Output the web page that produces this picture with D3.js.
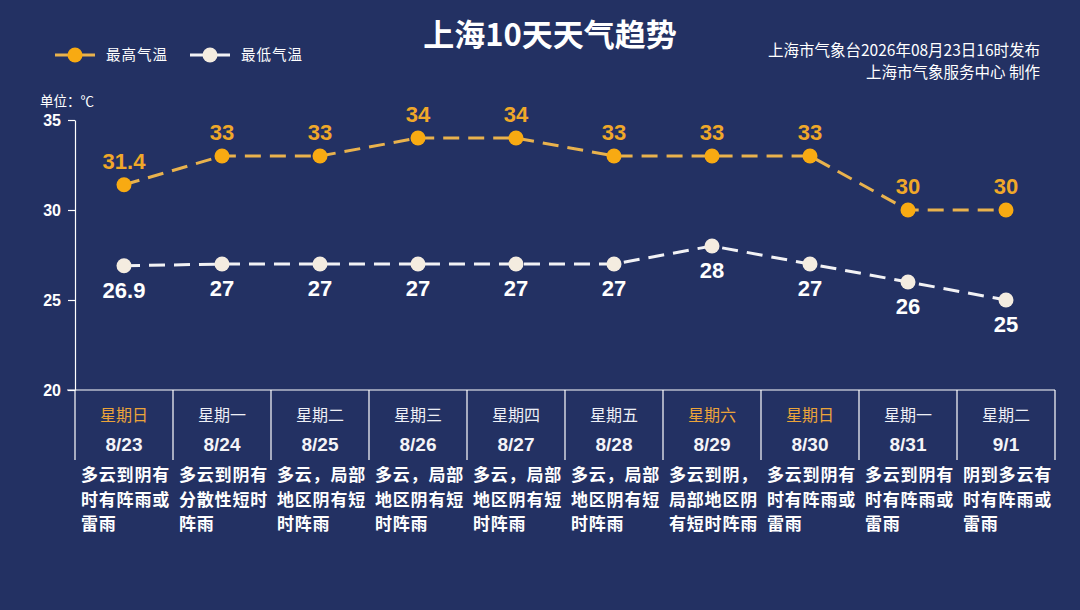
<!DOCTYPE html>
<html><head><meta charset="utf-8">
<script src="https://cdn.jsdelivr.net/npm/d3@7"></script>
<style>body{margin:0;background:#233163;}svg{display:block;font-family:"Noto Sans CJK SC","Noto Sans",sans-serif;}</style>
</head><body><svg id="c" width="1080" height="610"></svg>
<script>
const dates = ["8/23","8/24","8/25","8/26","8/27","8/28","8/29","8/30","8/31","9/1"];
const weekdays = ["星期日","星期一","星期二","星期三","星期四","星期五","星期六","星期日","星期一","星期二"];
const weekend = [true,false,false,false,false,false,true,true,false,false];
const highTemps = [31.4,33,33,34,34,33,33,33,30,30];
const lowTemps = [26.9,27,27,27,27,27,28,27,26,25];
const weather = [
 ["多云到阴有","时有阵雨或","雷雨"],
 ["多云到阴有","分散性短时","阵雨"],
 ["多云，局部","地区阴有短","时阵雨"],
 ["多云，局部","地区阴有短","时阵雨"],
 ["多云，局部","地区阴有短","时阵雨"],
 ["多云，局部","地区阴有短","时阵雨"],
 ["多云到阴，","局部地区阴","有短时阵雨"],
 ["多云到阴有","时有阵雨或","雷雨"],
 ["多云到阴有","时有阵雨或","雷雨"],
 ["阴到多云有","时有阵雨或","雷雨"]
];
const yTicks = [20,25,30,35];

const svg = d3.select("#c");
const W=1080,H=610;
svg.append("rect").attr("width",W).attr("height",H).attr("fill","#233163");
const orange="#f8aa12", orangeLine="#e9b24d", white="#f4ece0", lineWhite="#f2f2f5";
const latin="Liberation Sans, Arial, sans-serif";

const x = d3.scaleBand().domain(dates).range([75,1055]);
const y = d3.scaleLinear().domain([20,35]).range([390,120]);
const cx = d => x(d)+x.bandwidth()/2;

// title
svg.append("text").attr("x",550).attr("y",46).attr("text-anchor","middle").attr("fill","#fff")
 .attr("font-size",31).attr("font-weight","bold").text("上海10天天气趋势");
svg.append("text").attr("x",1040).attr("y",56).attr("text-anchor","end").attr("fill","#fff").attr("font-size",15.5).text("上海市气象台2026年08月23日16时发布");
svg.append("text").attr("x",1040).attr("y",78).attr("text-anchor","end").attr("fill","#fff").attr("font-size",15.5).text("上海市气象服务中心  制作");

// legend
const leg=[{t:"最高气温",c:orange,l:orangeLine,x:55},{t:"最低气温",c:white,l:lineWhite,x:190}];
leg.forEach(g=>{
 svg.append("line").attr("x1",g.x).attr("x2",g.x+40).attr("y1",55).attr("y2",55).attr("stroke",g.l).attr("stroke-width",3);
 svg.append("circle").attr("cx",g.x+20).attr("cy",55).attr("r",7.5).attr("fill",g.c);
 svg.append("text").attr("x",g.x+51).attr("y",60).attr("fill","#fff").attr("font-size",14.5).attr("letter-spacing",1).text(g.t);
});

svg.append("text").attr("x",40).attr("y",106).attr("fill","#fff").attr("font-size",13.5).text("单位：℃");

// y axis
const ya = svg.append("g").attr("transform","translate(75,0)").call(d3.axisLeft(y).tickValues(yTicks).tickSize(7).tickSizeOuter(0));
ya.attr("font-size",null);
ya.select(".domain").attr("stroke","#fff").attr("stroke-width",1.2);
ya.selectAll(".tick line").attr("stroke","#fff").attr("stroke-width",1.2);
ya.selectAll(".tick text").attr("fill","#fff").style("font-size","16px").attr("font-weight","bold").attr("x",-14)
 .attr("font-family",latin);

// x axis table
svg.append("line").attr("x1",67).attr("x2",1055).attr("y1",390).attr("y2",390).attr("stroke","#fff").attr("stroke-width",1.2);
const bounds = dates.map(d=>x(d)).concat([x.range()[1]]);
svg.selectAll(".vl").data(bounds).join("line").attr("x1",d=>d).attr("x2",d=>d).attr("y1",390).attr("y2",460).attr("stroke","#fff").attr("stroke-width",1.2);

const cols = svg.selectAll(".col").data(dates).join("g");
cols.append("text").attr("x",d=>cx(d)).attr("y",421).attr("text-anchor","middle").attr("font-size",16)
 .attr("fill",(d,i)=>weekend[i]?"#eba43a":"#eef0f6").text((d,i)=>weekdays[i]);
cols.append("text").attr("x",d=>cx(d)).attr("y",451).attr("text-anchor","middle").attr("font-size",19).attr("font-weight","bold")
 .attr("fill","#f4f4f8").attr("font-family",latin).text(d=>d);
cols.each(function(d,i){
 const g=d3.select(this);
 weather[i].forEach((s,j)=>{
  g.append("text").attr("x",x(d)+6).attr("y",481+j*24.5).attr("font-size",17).attr("letter-spacing",0.8).attr("font-weight","bold").attr("fill","#fff").text(s);
 });
});

// lines
const line = (arr)=>d3.line().x((v,i)=>cx(dates[i])).y(v=>y(v))(arr);
svg.append("path").attr("d",line(highTemps)).attr("fill","none").attr("stroke",orangeLine).attr("stroke-width",3).attr("stroke-dasharray","16,9");
svg.append("path").attr("d",line(lowTemps)).attr("fill","none").attr("stroke",lineWhite).attr("stroke-width",3).attr("stroke-dasharray","16,9");

svg.selectAll(".hp").data(highTemps).join("circle").attr("cx",(v,i)=>cx(dates[i])).attr("cy",v=>y(v)).attr("r",7.5).attr("fill",orange);
svg.selectAll(".lp").data(lowTemps).join("circle").attr("cx",(v,i)=>cx(dates[i])).attr("cy",v=>y(v)).attr("r",7.5).attr("fill",white);

svg.selectAll(".hl").data(highTemps).join("text").attr("x",(v,i)=>cx(dates[i])).attr("y",v=>y(v)-16)
 .attr("text-anchor","middle").attr("fill","#f0a829").attr("font-size",22).attr("font-weight","bold").attr("font-family",latin).text(v=>v);
svg.selectAll(".ll").data(lowTemps).join("text").attr("x",(v,i)=>cx(dates[i])).attr("y",v=>y(v)+32)
 .attr("text-anchor","middle").attr("fill","#fff").attr("font-size",22).attr("font-weight","bold").attr("font-family",latin).text(v=>v);
</script></body></html>
